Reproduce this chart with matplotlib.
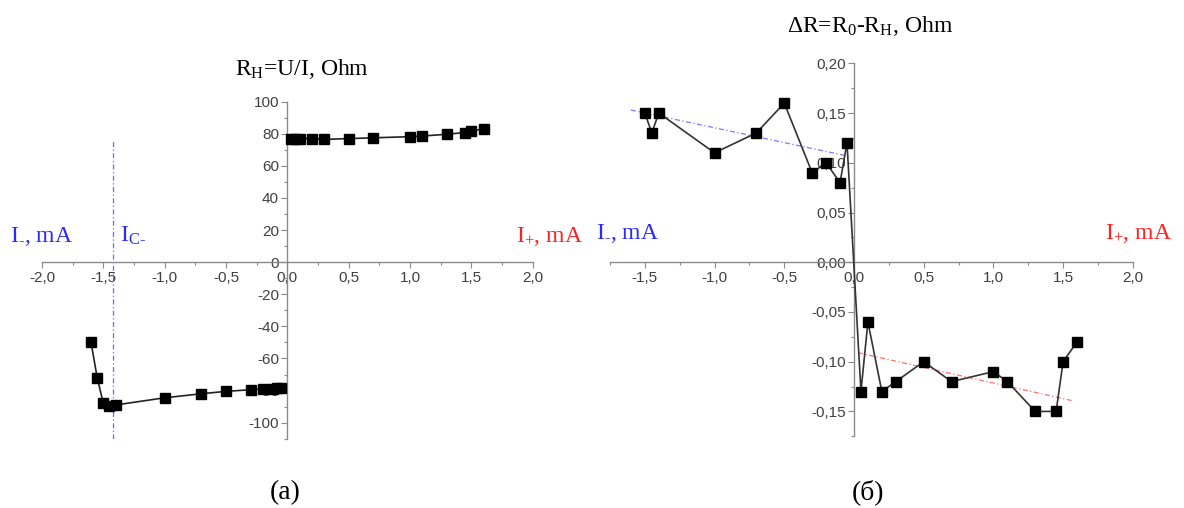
import matplotlib
matplotlib.use("Agg")
import matplotlib.pyplot as plt
from matplotlib.ticker import MultipleLocator, FuncFormatter

plt.rcParams['font.family'] = ['Liberation Serif', 'DejaVu Serif']
plt.rcParams['mathtext.fontset'] = 'custom'
plt.rcParams['mathtext.rm'] = 'Liberation Serif'
plt.rcParams['mathtext.it'] = 'Liberation Serif'
plt.rcParams['mathtext.default'] = 'regular'

# (a) R_H = U/I, Ohm
a_pos_x = [0.03, 0.06, 0.1, 0.2, 0.3, 0.5, 0.7, 1.0, 1.1, 1.3, 1.45, 1.5, 1.6]
a_pos_y = [77, 77, 77, 77, 76.5, 77, 77.5, 78.2, 78.6, 79.7, 80.8, 81.8, 83]
a_neg_x = [-1.6, -1.55, -1.5, -1.45, -1.4, -1.0, -0.7, -0.5, -0.3, -0.2, -0.12, -0.08, -0.05]
a_neg_y = [-50, -72, -88, -89.5, -89, -84.5, -82, -80.5, -79.5, -79, -79, -78.5, -78.5]
ic_minus = -1.42
ic_span = [-110, 77]

# (b) dR = R0 - R_H, Ohm
b_x = [-1.5, -1.45, -1.4, -1.0, -0.7, -0.5, -0.3, -0.2, -0.1, -0.05,
       0.05, 0.1, 0.2, 0.3, 0.5, 0.7, 1.0, 1.1, 1.3, 1.45, 1.5, 1.6]
b_y = [0.15, 0.13, 0.15, 0.11, 0.13, 0.16, 0.09, 0.10, 0.08, 0.12,
       -0.13, -0.06, -0.13, -0.12, -0.10, -0.12, -0.11, -0.12, -0.15, -0.15, -0.10, -0.08]
trend_neg_x = [-1.6, -0.02]
trend_neg_y = [0.153, 0.106]
trend_pos_x = [0.03, 1.56]
trend_pos_y = [-0.091, -0.139]

W, H = 1184, 508
fig = plt.figure(figsize=(W / 100, H / 100), dpi=100)


def px(x, y):
    return x / W, 1 - y / H


def comma(fmt):
    return FuncFormatter(lambda v, p: (fmt % v).replace('.', ','))


def origin_axes(ax, xlim, ylim, xmaj, ymaj, xfmt, yfmt):
    ax.set_xlim(*xlim)
    ax.set_ylim(*ylim)
    for s in ['top', 'right']:
        ax.spines[s].set_visible(False)
    for s in ['left', 'bottom']:
        ax.spines[s].set_position(('data', 0))
        ax.spines[s].set_color('#8a8a8a')
        ax.spines[s].set_linewidth(1.0)
    ax.set_facecolor('none')
    ax.xaxis.set_major_locator(MultipleLocator(xmaj))
    ax.xaxis.set_minor_locator(MultipleLocator(xmaj / 2))
    ax.yaxis.set_major_locator(MultipleLocator(ymaj))
    ax.yaxis.set_minor_locator(MultipleLocator(ymaj / 2))
    ax.xaxis.set_major_formatter(comma(xfmt))
    ax.yaxis.set_major_formatter(comma(yfmt))
    ax.tick_params(which='both', direction='out', color='#8a8a8a', width=0.8,
                   labelcolor='#404040', labelsize=11, pad=2)
    ax.tick_params(which='major', length=4)
    ax.tick_params(which='minor', length=2)
    for lab in ax.get_xticklabels() + ax.get_yticklabels():
        lab.set_family(['Liberation Sans', 'DejaVu Sans'])


# left panel
ax1 = fig.add_axes([42 / W, 1 - 438.7 / H, 490.6 / W, 337 / H])
origin_axes(ax1, (-2.0, 2.0), (-110, 100), 0.5, 20, '%.1f', '%d')
ax1.plot([ic_minus, ic_minus], ic_span, color='#6a6aff', lw=0.9,
         linestyle=(0, (4, 2, 1, 2)), zorder=2)
ax1.plot(a_pos_x, a_pos_y, color='#222222', lw=1.2, marker='s', ms=7.5,
         mfc='black', mec='black', zorder=3, clip_on=False)
ax1.plot(a_neg_x, a_neg_y, color='#222222', lw=1.2, marker='s', ms=7.5,
         mfc='black', mec='black', zorder=3, clip_on=False)

# right panel
ax2 = fig.add_axes([610 / W, 1 - 436.3 / H, 522.8 / W, 373 / H])
origin_axes(ax2, (-1.75, 2.0), (-0.175, 0.20), 0.5, 0.05, '%.1f', '%.2f')
ax2.plot(trend_neg_x, trend_neg_y, color='#7a7aff', lw=0.9,
         linestyle=(0, (4, 2, 1, 2)), zorder=2)
ax2.plot(trend_pos_x, trend_pos_y, color='#ff7070', lw=0.9,
         linestyle=(0, (4, 2, 1, 2)), zorder=2)
ax2.plot(b_x, b_y, color='#333333', lw=1.2, marker='s', ms=7.5,
         mfc='black', mec='black', zorder=3, clip_on=False)

blue = '#2a2aff'
red = '#ff2020'
fs = 17
sub_minus = r'$_{\text{-}}$'
sub_plus = r'$_{\text{+}}$'

# text labels
fig.text(*px(302, 75), 'R$_H$=U/I, Ohm', ha='center', va='baseline', fontsize=fs)
fig.text(*px(10, 242), 'I' + sub_minus + ', mA', ha='left', va='baseline',
         fontsize=fs, color=blue)
fig.text(*px(120, 242), r'I$_{C\text{-}}$', ha='left', va='baseline',
         fontsize=fs, color=blue)
fig.text(*px(516, 242), 'I' + sub_plus + ', mA', ha='left', va='baseline',
         fontsize=fs, color=red)

fig.text(*px(870, 32), 'ΔR=R$_0$-R$_H$, Ohm', ha='center', va='baseline', fontsize=fs)
fig.text(*px(596, 239), 'I' + sub_minus + ', mA', ha='left', va='baseline',
         fontsize=fs, color=blue)
fig.text(*px(1105, 239), 'I' + sub_plus + ', mA', ha='left', va='baseline',
         fontsize=fs, color=red)

fig.text(*px(285, 499), '(а)', ha='center', va='baseline', fontsize=20)
fig.text(*px(868, 499), '(б)', ha='center', va='baseline', fontsize=20)

fig.savefig('out.png', dpi=100, facecolor='white')
